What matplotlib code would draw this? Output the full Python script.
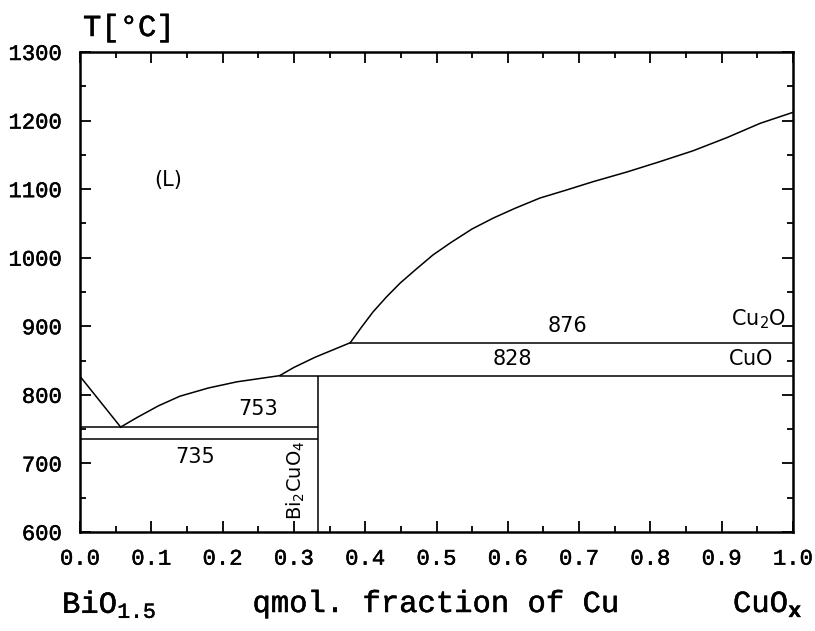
import matplotlib.pyplot as plt
import matplotlib.patheffects as pe
from matplotlib.ticker import MultipleLocator

# Phase diagram BiO1.5 - CuOx
plt.rcParams['mathtext.fontset'] = 'custom'
plt.rcParams['mathtext.rm'] = 'Liberation Mono'
plt.rcParams['mathtext.sf'] = 'DejaVu Sans'
plt.rcParams['mathtext.bf'] = 'Liberation Mono:bold'

# liquidus, Bi-rich side down to the eutectic
liq1_x = [0.0, 0.057]
liq1_T = [827, 753]
# liquidus from the eutectic up to the Bi2CuO4 peritectic
liq2_x = [0.057, 0.08, 0.11, 0.14, 0.18, 0.22, 0.26, 0.28]
liq2_T = [753, 767, 784, 798, 810, 819, 825, 828]
# liquidus between the two peritectics
liq3_x = [0.28, 0.30, 0.33, 0.379]
liq3_T = [828, 840, 855, 876]
# liquidus, Cu-rich side
liq4_x = [0.379, 0.395, 0.411, 0.430, 0.449, 0.470, 0.495, 0.520, 0.550,
          0.580, 0.610, 0.645, 0.680, 0.720, 0.767, 0.813, 0.860, 0.907,
          0.954, 1.0]
liq4_T = [876, 899, 921, 943, 963, 982, 1004, 1022, 1042,
          1058, 1072, 1087, 1098, 1111, 1125, 1140, 1156, 1175,
          1196, 1212]

# invariant temperatures and where the horizontals run
t_eut, t_low = 753, 735
t_cuo, t_cu2o = 828, 876
x_bi2cuo4 = 1 / 3
x_p1, x_p2 = 0.28, 0.379

axis_font = 'Liberation Mono'
thick = [pe.withStroke(linewidth=0.35, foreground='black')]

fig = plt.figure(figsize=(8.15, 6.31), dpi=100)
ax = fig.add_axes([0.0982, 0.1569, 0.8748, 0.7607])

lw = 1.1
for xs, ts in [(liq1_x, liq1_T), (liq2_x, liq2_T), (liq3_x, liq3_T), (liq4_x, liq4_T)]:
    ax.plot(xs, ts, color='black', lw=lw, solid_joinstyle='round')

ax.hlines([t_eut, t_low], 0, x_bi2cuo4, color='black', lw=lw)
ax.vlines(x_bi2cuo4, 600, t_cuo, color='black', lw=lw)
ax.hlines(t_cuo, x_p1, 1.0, color='black', lw=lw)
ax.hlines(t_cu2o, x_p2, 1.0, color='black', lw=lw)

ax.set_xlim(0, 1)
ax.set_ylim(600, 1300)
ax.xaxis.set_major_locator(MultipleLocator(0.1))
ax.xaxis.set_minor_locator(MultipleLocator(0.05))
ax.yaxis.set_major_locator(MultipleLocator(100))
ax.yaxis.set_minor_locator(MultipleLocator(50))
ax.xaxis.set_major_formatter(plt.FormatStrFormatter('%.1f'))
ax.tick_params(which='both', direction='in', top=True, right=True, width=1.3)
ax.tick_params(which='major', length=8)
ax.tick_params(which='minor', length=4.5)
ax.tick_params(axis='y', pad=13)
ax.tick_params(axis='x', pad=12)
for lab in ax.get_xticklabels() + ax.get_yticklabels():
    lab.set_family(axis_font)
    lab.set_fontsize(16)
    lab.set_path_effects(thick)
for sp in ax.spines.values():
    sp.set_linewidth(1.8)

# labels inside the diagram
sans = dict(family='DejaVu Sans', fontsize=15, color='black')
ax.text(0.123, 1113, '(L)', ha='center', va='center', **sans)
ax.text(0.684, 900, '876', ha='center', va='center', **sans)
ax.text(0.607, 852, '828', ha='center', va='center', **sans)
ax.text(0.250, 779, '753', ha='center', va='center', **sans)
ax.text(0.161, 710, '735', ha='center', va='center', **sans)
ax.text(0.99, 910, r'$\mathsf{Cu_2O}$', ha='right', va='center', **sans)
ax.text(0.972, 852, r'$\mathsf{CuO}$', ha='right', va='center', **sans)
ax.text(0.303, 676, r'$\mathsf{Bi_2CuO_4}$', ha='center', va='center',
        rotation=90, family='DejaVu Sans', fontsize=14)

# axis titles
title_kw = dict(family=axis_font, fontsize=22, va='center', path_effects=thick)
fig.text(83 / 815, 1 - 28 / 631, 'T[°C]', ha='left', **title_kw)
fig.text(62 / 815, 1 - 604 / 631, r'BiO$_{1.5}$', ha='left', **title_kw)
fig.text(435 / 815, 1 - 604 / 631, 'qmol. fraction of Cu', ha='center', **title_kw)
fig.text(733 / 815, 1 - 604 / 631, r'CuO$_{\mathbf{x}}$', ha='left', **title_kw)

fig.savefig('out.png', dpi=100)
